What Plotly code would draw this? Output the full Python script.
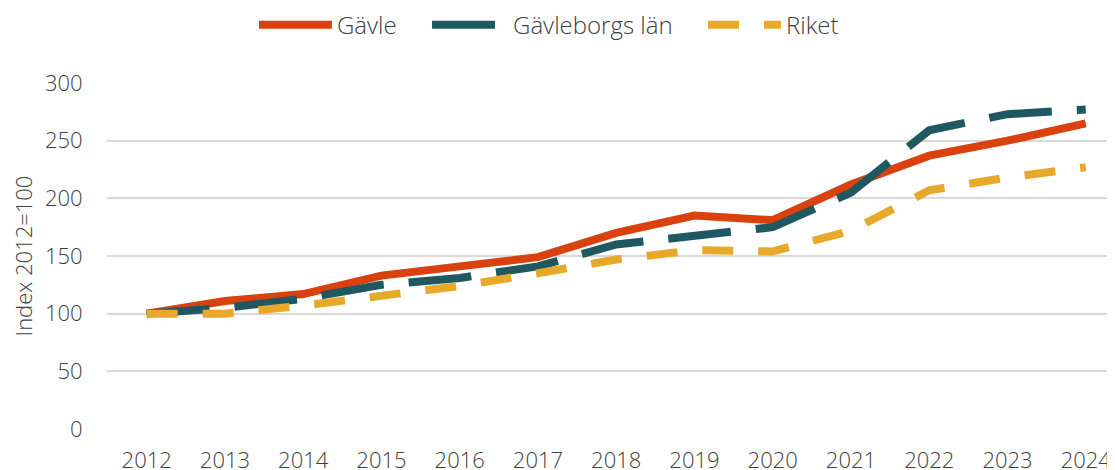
import plotly.graph_objects as go

years = [2012, 2013, 2014, 2015, 2016, 2017, 2018, 2019, 2020, 2021, 2022, 2023, 2024]
gavle = [100, 111, 117, 133, 141, 149, 170, 185, 181, 212, 237, 250, 265]
gavleborg = [100, 105, 113, 125, 131, 141, 160, 167, 175, 205, 259, 273, 277]
riket = [100, 100, 107, 116, 124, 135, 147, 155, 154, 172, 207, 218, 227]
y_ticks = [0, 50, 100, 150, 200, 250, 300]

FONT = "Open Sans"
TXT = "#404040"
W = 300

fig = go.Figure()
fig.add_trace(go.Scatter(x=years, y=gavle, name="Gävle", mode="lines", legend="legend",
                         showlegend=True, line=dict(color="#D9410E", width=8)))
fig.add_trace(go.Scatter(x=years, y=gavleborg, name="Gävleborgs län", mode="lines", legend="legend2",
                         showlegend=True, line=dict(color="#1F5860", width=8, dash="63px,25px")))
fig.add_trace(go.Scatter(x=years, y=riket, name="Riket", mode="lines", legend="legend3",
                         showlegend=True, line=dict(color="#E8A92A", width=8, dash="31px,25px")))

lfont = dict(family=FONT, size=24, color=TXT, weight=W)
ly = 1.167
fig.update_layout(
    width=1115, height=470,
    margin=dict(l=99, r=0, t=75, b=49, autoexpand=False),
    paper_bgcolor="white", plot_bgcolor="white",
    showlegend=True,
    font=dict(family=FONT, size=22, color=TXT, weight=W),
    legend=dict(x=0.1447, xanchor="left", y=ly, yanchor="middle", font=lfont,
                itemwidth=73, bgcolor="rgba(0,0,0,0)"),
    legend2=dict(x=0.315, xanchor="left", y=ly, yanchor="middle", font=lfont,
                 itemwidth=76, bgcolor="rgba(0,0,0,0)"),
    legend3=dict(x=0.5866, xanchor="left", y=ly, yanchor="middle", font=lfont,
                 itemwidth=73, bgcolor="rgba(0,0,0,0)"),
    xaxis=dict(range=[2011.493, 2024.476], tickmode="array", tickvals=years,
               ticktext=[str(y) for y in years], showgrid=False, zeroline=False,
               ticks="outside", ticklen=12, tickcolor="rgba(0,0,0,0)",
               tickfont=dict(family=FONT, size=22, color=TXT, weight=W)),
    yaxis=dict(range=[0, 300], tickmode="array", tickvals=y_ticks, showgrid=True,
               gridcolor="#D9D9D9", gridwidth=1.5, zeroline=False,
               ticks="outside", ticklen=19, tickcolor="rgba(0,0,0,0)",
               tickfont=dict(family=FONT, size=22, color=TXT, weight=W),
               title=dict(text="Index 2012=100", standoff=8,
                          font=dict(family=FONT, size=22, color=TXT, weight=W))),
)

fig.write_html("out.html")
